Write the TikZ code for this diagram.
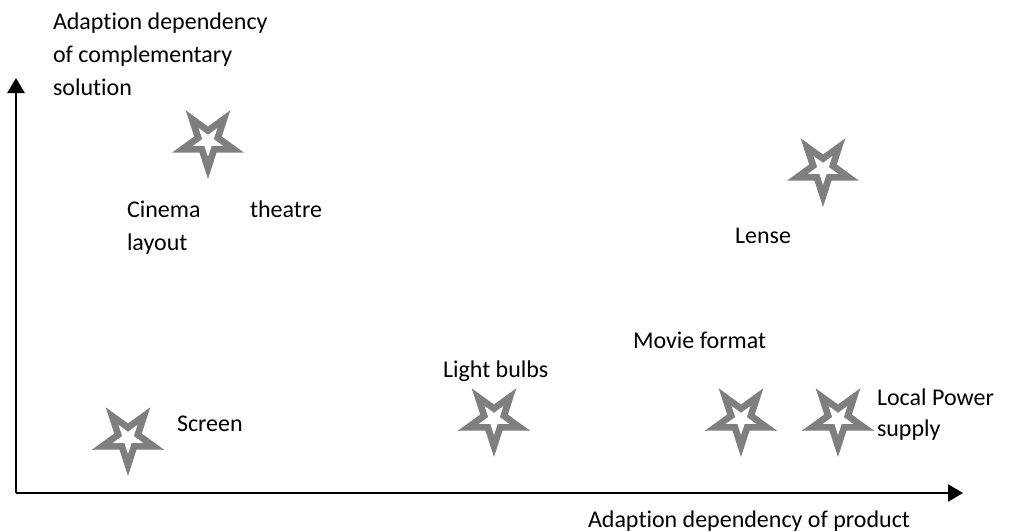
\documentclass[tikz,border=0pt]{standalone}
\usepackage{fontspec}
\setmainfont{Carlito}[Ligatures={NoCommon}]
\usetikzlibrary{arrows.meta}
\definecolor{stargray}{RGB}{127,127,127}
\tikzset{
  x=1pt, y=-1pt,
  lbl/.style={inner sep=0pt, outer sep=0pt, font=\fontsize{24}{33}\selectfont, text=black},
  axisline/.style={line width=2.6pt, -{Triangle[length=15pt,width=17pt]}},
  pics/estar/.style={code={
    \fill[stargray] (90:38) -- (126:14.5) -- (162:38) -- (198:14.5) -- (234:38)
       -- (270:14.5) -- (306:38) -- (342:14.5) -- (18:38) -- (54:14.5) -- cycle;
    \fill[white] (90:16) -- (126:6.1) -- (162:16) -- (198:6.1) -- (234:16)
       -- (270:6.1) -- (306:16) -- (342:6.1) -- (18:16) -- (54:6.1) -- cycle;
  }}
}
\begin{document}
\begin{tikzpicture}
\useasboundingbox (0,0) rectangle (1010,531);
% axes
\coordinate (O) at (16,493);
\coordinate (Y) at (16,78);
\coordinate (X) at (963,493);
\draw[axisline] (O) -- (Y);
\draw[axisline] (O) -- (X);
% stars
\pic (cinema) at (208,141) {estar};
\pic (lense) at (823,169) {estar};
\pic (screen) at (128,438) {estar};
\pic (light) at (494,419) {estar};
\pic (movie) at (741,419) {estar};
\pic (power) at (838,419) {estar};
% labels
\node[lbl, anchor=base west, align=left] (ylab) at (53,95) {Adaption dependency\\of complementary\\solution};
\node[lbl, anchor=base west, text width=195pt, align=left] (lcinema) at (127,217) {Cinema\hfill theatre\\layout};
\node[lbl, anchor=base west] (llense) at (735,243) {Lense};
\node[lbl, anchor=base west] (llight) at (443,377) {Light bulbs};
\node[lbl, anchor=base west] (lmovie) at (633,348) {Movie format};
\node[lbl, anchor=base west, align=left, font=\fontsize{24}{31}\selectfont] (lpower) at (877,436) {Local Power\\supply};
\node[lbl, anchor=base west] (lscreen) at (177,431) {Screen};
\node[lbl, anchor=base west] (xlab) at (588,527) {Adaption dependency of product};
\end{tikzpicture}
\end{document}
